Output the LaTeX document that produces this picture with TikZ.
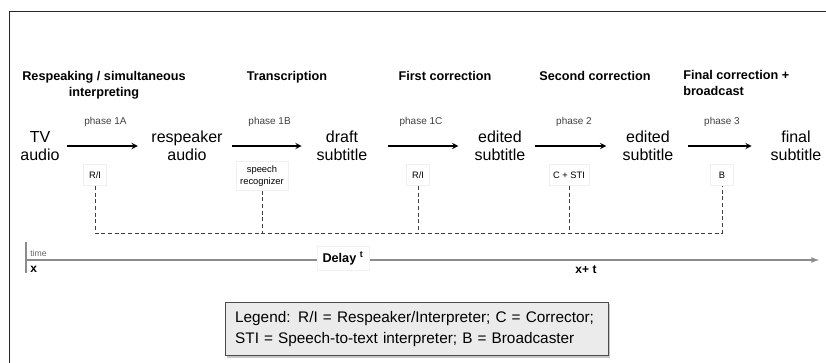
\documentclass[tikz,border=0pt]{standalone}
\usepackage{fontspec}
\setmainfont{Liberation Sans}
\usetikzlibrary{shapes.geometric, arrows, positioning, shadows}

\begin{document}
\begin{tikzpicture}[x=0.75pt, y=-0.75pt]
% Styles used in the picture
\tikzstyle{stage_txt} = [align=center, inner sep=0pt, font=\fontsize{12}{13.5}\selectfont]
\tikzstyle{title_txt} = [align=center, anchor=north, inner sep=0pt, font=\bfseries\fontsize{9.5}{12}\selectfont]
\tikzstyle{phase_txt} = [text=black!75, inner sep=0pt, font=\fontsize{7.5}{9}\selectfont]
\tikzstyle{role_box} = [rectangle, draw=black!6, fill=white, align=center, inner sep=3pt, minimum width=17pt, minimum height=16pt, font=\fontsize{7}{9}\selectfont]
\tikzstyle{arrow} = [line width=1.1pt,->,>=stealth, shorten <=7pt, shorten >=11pt]
\tikzstyle{dash_line} = [black!75, dash pattern=on 3pt off 2pt]
\tikzstyle{time_line} = [black!45, line width=1pt,->,>=latex]
\tikzstyle{legend_box} = [rectangle, draw=black!70, fill=black!8, align=left, text width=272pt, inner xsep=7.5pt, minimum height=40pt, font=\fontsize{11.5}{16}\selectfont, drop shadow={opacity=0.45, shadow xshift=1.5pt, shadow yshift=-1.5pt}]

\useasboundingbox (0,0) rectangle (826,363);
\draw[line width=1.2pt, black!85] (9.5,363) -- (9.5,11.5) -- (826,11.5);

% Headings
\node (t_respeak) [title_txt] at (104,71) {Respeaking / simultaneous\\interpreting};
\node (t_transc) [title_txt] at (287,71) {Transcription};
\node (t_first) [title_txt] at (445,71) {First correction};
\node (t_second) [title_txt] at (595,71) {Second correction};
\node (t_final) [title_txt, align=left, anchor=north west] at (683,70) {Final correction +\\broadcast};

% Stages
\node (tv_audio) [stage_txt] at (40,146) {TV\\audio};
\node (resp_audio) [stage_txt] at (187,146) {respeaker\\audio};
\node (draft_sub) [stage_txt] at (342,146) {draft\\subtitle};
\node (edit_sub_a) [stage_txt] at (500,146) {edited\\subtitle};
\node (edit_sub_b) [stage_txt] at (648,146) {edited\\subtitle};
\node (final_sub) [stage_txt] at (796,146) {final\\subtitle};

% Arrows with phases
\draw [arrow, shorten <=5.5pt, shorten >=10pt] (tv_audio) -- node[phase_txt, midway, yshift=18pt] (ph_1a) {phase 1A} (resp_audio);
\draw [arrow] (resp_audio) -- node[phase_txt, midway, yshift=18pt] (ph_1b) {phase 1B} (draft_sub);
\draw [arrow, shorten <=15.5pt, shorten >=12pt] (draft_sub) -- node[phase_txt, midway, yshift=18pt] (ph_1c) {phase 1C} (edit_sub_a);
\draw [arrow, shorten >=12pt] (edit_sub_a) -- node[phase_txt, midway, yshift=18pt] (ph_2) {phase 2} (edit_sub_b);
\draw [arrow, shorten <=11pt, shorten >=14pt] (edit_sub_b) -- node[phase_txt, midway, yshift=18pt] (ph_3) {phase 3} (final_sub);

% Who does it
\node (role_1a) [role_box] at (95,175) {R/I};
\node (role_1b) [role_box] at (262,176) {speech\\recognizer};
\node (role_1c) [role_box] at (418,175) {R/I};
\node (role_2) [role_box] at (569,175) {C + STI};
\node (role_3) [role_box] at (722,175) {B};

\coordinate (delay_base) at (0,233);
\draw [dash_line] (role_1a) -- (role_1a |- delay_base) -- (role_3 |- delay_base) -- (role_3);
\draw [dash_line] (role_1b) -- (role_1b |- delay_base);
\draw [dash_line] (role_1c) -- (role_1c |- delay_base);
\draw [dash_line] (role_2) -- (role_2 |- delay_base);

% Time line
\coordinate (time_start) at (26,260);
\coordinate (time_end) at (819,260);
\coordinate (tick_top) at (26,242);
\coordinate (tick_bot) at (26,273);
\draw [time_line] (time_start) -- (time_end);
\draw [black!45, line width=1pt] (tick_top) -- (tick_bot);
\node (time_lbl) [anchor=west, inner sep=0pt, text=black!60, font=\fontsize{6.5}{8}\selectfont] at (30,253) {time};
\node (x_lbl) [anchor=west, inner sep=0pt, font=\bfseries\fontsize{9}{11}\selectfont] at (30,269) {x};
\node (delay) [fill=white, draw=black!5, inner sep=4pt, font=\bfseries\fontsize{9.5}{11}\selectfont] at (343,258) {Delay \textsuperscript{t}};
\node (xt_lbl) [inner sep=0pt, font=\bfseries\fontsize{9}{11}\selectfont] at (586,270) {x+ t};

% Legend
\node (legend) [legend_box] at (416.5,329) {Legend: R/I = Respeaker/Interpreter; C = Corrector;\\STI = Speech-to-text interpreter; B = Broadcaster};
\end{tikzpicture}
\end{document}
